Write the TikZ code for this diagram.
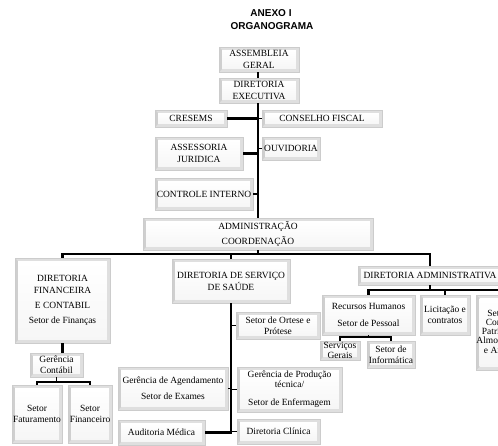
\documentclass[tikz,border=0pt]{standalone}
\usepackage{fontspec}
\setmainfont{Liberation Serif}
\newfontfamily\titlefont{Liberation Sans}
\begin{document}
\begin{tikzpicture}[x=0.75pt,y=-0.75pt,
  obox/.style={draw=gray!40, line width=0.4pt, fill=gray!25, inner sep=0pt, align=center,
    font=\fontsize{7.1}{8.6}\selectfont,
    path picture={
      \fill[gray!38] (path picture bounding box.north west) -- ([shift={(2.4pt,-2.4pt)}]path picture bounding box.north west)
        -- ([shift={(2.4pt,2.4pt)}]path picture bounding box.south west) -- (path picture bounding box.south west) -- cycle;
      \shade[top color=white, bottom color=gray!7] ([shift={(2.4pt,-2.4pt)}]path picture bounding box.north west) rectangle ([shift={(-2.4pt,2.4pt)}]path picture bounding box.south east);}},
  conn/.style={line width=1.9pt, black},
  tick/.style={line width=1.2pt, black},
  ttl/.style={font=\titlefont\bfseries\fontsize{7.5}{9}\selectfont, inner sep=0pt}]
\newcommand\obox[6]{\node[obox, minimum width={(#4-#2)*0.75pt}, minimum height={(#5-#3)*0.75pt}] (#1) at ({(#2+#4)/2},{(#3+#5)/2}) {#6};}
\useasboundingbox (0,0) rectangle (498,445);
\clip (0,0) rectangle (498,445);

\node[ttl] (t1) at (271,13) {ANEXO I};
\node[ttl] (t2) at (272,26) {ORGANOGRAMA};

\obox{ag}{219}{47}{299}{72}{ASSEMBLEIA\\GERAL}
\obox{de}{219}{78}{299}{103}{DIRETORIA\\EXECUTIVA}
\obox{cr}{155}{110}{227}{127}{CRESEMS}
\obox{cf}{262}{110}{382}{127}{CONSELHO FISCAL}
\obox{aj}{155}{137}{243}{170}{ASSESSORIA\\JURIDICA}
\obox{ou}{262}{137}{320}{160}{OUVIDORIA}
\obox{ci}{155}{178}{253}{210}{CONTROLE INTERNO}
\obox{adm}{143}{218}{373}{250}{ADMINISTRAÇÃO\\[2.75pt]COORDENAÇÃO}
\obox{df}{15}{258}{110}{343}{DIRETORIA\\FINANCEIRA\\[3pt]E CONTABIL\\[2.6pt]Setor de Finanças}
\obox{ds}{172}{259}{290}{303}{DIRETORIA DE SERVIÇO\\[0.5pt]DE SAÚDE}
\obox{da}{358}{266}{502}{285}{DIRETORIA ADMINISTRATIVA}
\obox{rh}{322}{295}{415}{335}{Recursos Humanos\\[4pt]Setor de Pessoal}
\obox{lc}{420}{295}{470}{335}{Licitação e\\contratos}
\obox{sc}{477}{295}{529}{370}{Setor de\\[-1.75pt]Compras\\[-1.75pt]Patrimônio\\[-1.75pt]Almoxarifado\\[-1.75pt]e Arquivo}
\obox{sg}{320}{341}{360}{360}{Serviços\\[-1pt]Gerais}
\obox{si}{367}{341}{415}{368}{Setor de\\Informática}
\obox{op}{236}{312}{320}{339}{Setor de Ortese e\\Prótese}
\obox{gp}{237}{367}{342}{412}{Gerência de Produção\\[-1pt]técnica/\\[5pt]Setor de Enfermagem}
\obox{dc}{237}{419}{320}{444}{Diretoria Clínica}
\obox{ga}{118}{367}{228}{410}{Gerência de Agendamento\\[3.5pt]Setor de Exames}
\obox{am}{118}{420}{205}{445}{Auditoria Médica}
\obox{gc}{30}{353}{83}{377}{Gerência\\Contábil}
\obox{sfat}{12}{385}{62}{443}{Setor\\Faturamento}
\obox{sfin}{68}{385}{112}{443}{Setor\\Financeiro}

\coordinate (spine) at (258,0);
\coordinate (bus) at (0,254);
\coordinate (gcb) at (0,382);
\coordinate (dab) at (0,290);
\coordinate (dabR) at (500,290);
\coordinate (rhb) at (0,337);

% top
\draw[tick] (ag.south -| spine) -- (de.north -| spine);
\draw[conn] (de.south -| spine) -- (adm.north -| spine);
\draw[conn] (cr.east) -- (cr.east -| spine);
\draw[tick] (cf.west) -- (cf.west -| spine);
\draw[conn] (aj.east) -- (aj.east -| spine);
\draw[tick] (ou.west) -- (ou.west -| spine);
\draw[tick] (ci.east) -- (ci.east -| spine);
% main bus
\draw[conn] (adm.south -| spine) -- (bus -| spine);
\draw[conn] (df.north) -- (df.north |- bus) -- (da.north |- bus) -- (da.north);
\draw[tick] (ds.north) -- (ds.north |- bus);
% saude
\draw[conn] (ds.south) -- (ds.south |- am.east) -- (am.east);
\draw[tick] (op.west) -- (op.west -| ds.south);
\draw[tick] (ga.east) -- (ga.east -| ds.south);
\draw[tick] (gp.west) -- (gp.west -| ds.south);
\draw[tick] (dc.west) -- (dc.west -| ds.south);
% financeira
\draw[conn] (df.south) -- (df.south |- gc.north);
\draw[tick] (gc.south) -- (gc.south |- gcb);
\draw[conn] (sfat.north) -- (sfat.north |- gcb) -- (sfin.north |- gcb) -- (sfin.north);
% administrativa
\draw[tick] (da.south) -- (da.south |- dab);
\draw[conn] (rh.north) -- (rh.north |- dab) -- (dabR);
\draw[tick] (lc.north) -- (lc.north |- dab);
\draw[tick] (sc.north) -- (sc.north |- dab);
\draw[tick] (rh.south) -- (rh.south |- rhb);
\draw[conn] (sg.north) -- (sg.north |- rhb) -- (si.north |- rhb) -- (si.north);
\end{tikzpicture}
\end{document}
